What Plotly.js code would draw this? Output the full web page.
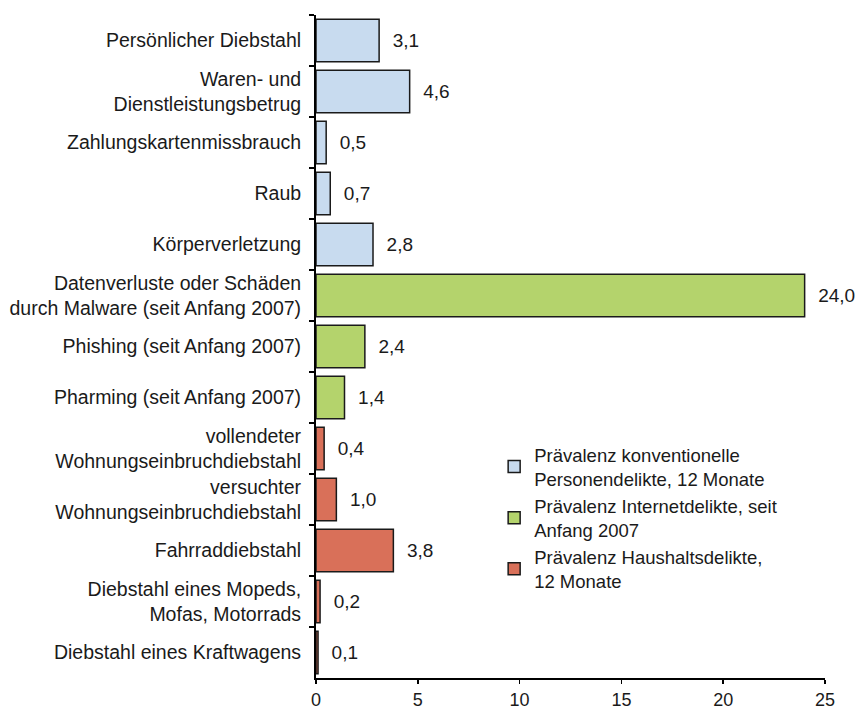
<!DOCTYPE html>
<html><head><meta charset="utf-8">
<script src="https://cdn.plot.ly/plotly-3.0.1.min.js"></script>
<style>html,body{margin:0;padding:0;background:#fff}</style>
</head><body><div id="chart" style="width:861px;height:713px"></div>
<script>
const categories = [
  "Persönlicher Diebstahl",
  "Waren- und<br>Dienstleistungsbetrug",
  "Zahlungskartenmissbrauch",
  "Raub",
  "Körperverletzung",
  "Datenverluste oder Schäden<br>durch Malware (seit Anfang 2007)",
  "Phishing (seit Anfang 2007)",
  "Pharming (seit Anfang 2007)",
  "vollendeter<br>Wohnungseinbruchdiebstahl",
  "versuchter<br>Wohnungseinbruchdiebstahl",
  "Fahrraddiebstahl",
  "Diebstahl eines Mopeds,<br>Mofas, Motorrads",
  "Diebstahl eines Kraftwagens"
];
const personCats = categories.slice(0,5);
const personVals = [3.1, 4.6, 0.5, 0.7, 2.8];
const internetCats = categories.slice(5,8);
const internetVals = [24.0, 2.4, 1.4];
const householdCats = categories.slice(8);
const householdVals = [0.4, 1.0, 3.8, 0.2, 0.1];
const seriesNames = [
  "Prävalenz konventionelle<br>Personendelikte, 12 Monate",
  "Prävalenz Internetdelikte, seit<br>Anfang 2007",
  "Prävalenz Haushaltsdelikte,<br>12 Monate"
];
const xTicks = [0,5,10,15,20,25];

function mk(cats, vals, name, color){
  return {
    type:'bar', orientation:'h', y:cats, x:vals, name:name,
    marker:{color:color, line:{color:'#1a1a1a', width:1.5}},
    text: vals.map(v => '  ' + v.toFixed(1).replace('.', ',')),
    textposition:'outside', cliponaxis:false,
    textfont:{family:'Liberation Sans, Arial, sans-serif', size:19, color:'#1a1a1a'},
    hoverinfo:'x+y'
  };
}
const data = [
  mk(personCats, personVals, seriesNames[0], '#c8dbef'),
  mk(internetCats, internetVals, seriesNames[1], '#b4d36c'),
  mk(householdCats, householdVals, seriesNames[2], '#d97059')
];
const layout = {
  width:861, height:713,
  margin:{l:316, r:36, t:15, b:35},
  paper_bgcolor:'#fff', plot_bgcolor:'#fff',
  barmode:'overlay', bargap:0.17,
  separators:',.',
  font:{family:'Liberation Sans, Arial, sans-serif', size:19, color:'#1a1a1a'},
  showlegend:true,
  legend:{x:0.35, y:0.365, xanchor:'left', yanchor:'top', bgcolor:'rgba(0,0,0,0)',
    font:{size:18.5, color:'#1a1a1a'}, tracegroupgap:0, itemwidth:30},
  xaxis:{range:[0,25], tickvals:xTicks, ticktext:xTicks.map(String), showgrid:false, zeroline:false,
    showline:true, linecolor:'#000', linewidth:2, ticks:'outside', ticklen:4, tickwidth:1.5, tickcolor:'#000',
    tickfont:{size:18}, fixedrange:true},
  yaxis:{type:'category', categoryorder:'array', categoryarray:categories, autorange:'reversed',
    showgrid:false, zeroline:false, showline:true, linecolor:'#000', linewidth:2,
    ticks:'outside', tickson:'boundaries', ticklen:5, tickwidth:1.5, tickcolor:'#000',
    tickfont:{size:19.5}, ticklabelstandoff:9}
};
Plotly.newPlot('chart', data, layout, {displayModeBar:false, staticPlot:true});
</script></body></html>
